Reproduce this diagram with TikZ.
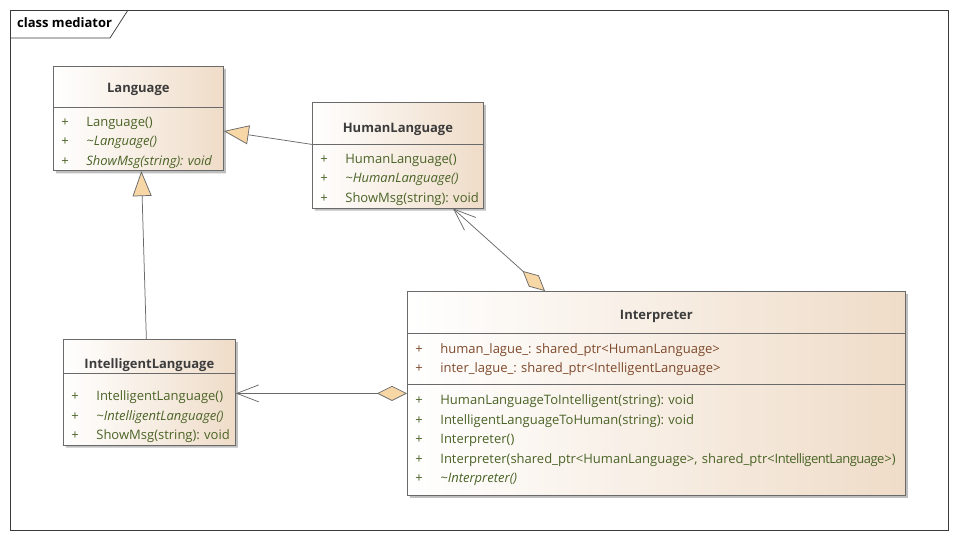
\documentclass[tikz,border=0pt]{standalone}
\usepackage{fontspec}
\setmainfont{Open Sans}
\usepackage{tikz}
\usetikzlibrary{shapes.multipart,shadows,arrows.meta}
\definecolor{namegray}{HTML}{3C3C3C}
\definecolor{opgreen}{HTML}{4A6326}
\definecolor{attrbrown}{HTML}{7E4A2C}
\definecolor{boxtan}{HTML}{EFDCC8}
\definecolor{tipfill}{HTML}{F8D7A7}
\definecolor{linegray}{HTML}{6A6A6A}
\definecolor{framegray}{HTML}{3A3A3A}
\newcommand{\classname}[3]{\makebox[\linewidth]{\bfseries\color{namegray}\rule[-#2]{0pt}{\dimexpr#1+#2\relax}#3}}
\newcommand{\members}[1]{\begin{tabular}{@{}l@{}}#1\end{tabular}}
\newcommand{\op}[1]{\color{opgreen}\makebox[25pt][l]{+}#1\rule[-3pt]{0pt}{19.5pt}\\}
\newcommand{\abstractop}[1]{\op{\itshape #1}}
\newcommand{\attr}[1]{\color{attrbrown}\makebox[25pt][l]{+}#1\rule[-3pt]{0pt}{19.5pt}\\}

\begin{document}
\begin{tikzpicture}[x=1pt,y=-1pt,
		umlclass/.style={rectangle split, rectangle split parts=2, draw=linegray, line width=.75pt,
			left color=white, right color=boxtan,
			drop shadow={shadow xshift=2.5pt, shadow yshift=-2.5pt, fill=black, opacity=.25},
			inner xsep=8pt, inner ysep=2pt, anchor=north west, font=\fontsize{13}{10}\selectfont\frenchspacing},
		umlline/.style={draw=linegray, line width=.75pt},
		inherits/.style={-{Triangle[length=25pt,width=19pt,fill=tipfill]}},
		aggregates/.style={{Diamond[length=30pt,width=15pt,fill=tipfill]}-{Straight Barb[length=22pt,width=17pt]}}]
	\useasboundingbox (0,0) rectangle (957,539);
	\draw[framegray, line width=.75pt] (10,10) rectangle (948,530);
	\node[anchor=west, inner sep=0pt, font=\fontsize{13}{13}\selectfont\bfseries] (frametab) at (17,23) {class mediator};
	\draw[framegray, line width=.75pt] (10,38) -- (110,38) -- (128,10);

	\node[umlclass, text width=154pt] (lang) at (53,66)
		{\classname{24pt}{12pt}{Language}
		\nodepart{two}\members{\op{Language()}\abstractop{\textasciitilde Language()}\abstractop{ShowMsg(string): void}}};
	\node[umlclass, text width=155pt] (human) at (312,102)
		{\classname{27.3pt}{10pt}{HumanLanguage}
		\nodepart{two}\members{\op{HumanLanguage()}\abstractop{\textasciitilde HumanLanguage()}\op{ShowMsg(string): void}}};
	\node[umlclass, text width=156pt] (intel) at (63,339)
		{\classname{26.3pt}{2.5pt}{IntelligentLanguage}
		\nodepart{two}\members{\noalign{\vskip8pt}\op{IntelligentLanguage()}\abstractop{\textasciitilde IntelligentLanguage()}\op{ShowMsg(string): void}}};
	\node[umlclass, rectangle split parts=3, text width=482pt] (interp) at (407,291)
		{\classname{26pt}{11pt}{Interpreter}
		\nodepart{two}\members{\noalign{\vskip1pt}\attr{human\_lague\_: shared\_ptr<HumanLanguage>}\attr{inter\_lague\_: shared\_ptr<IntelligentLanguage>}\noalign{\vskip6.4pt}}
		\nodepart{three}\members{\noalign{\vskip1pt}\op{HumanLanguageToIntelligent(string): void}\op{IntelligentLanguageToHuman(string): void}\op{Interpreter()}\op{Interpreter(shared\_ptr<HumanLanguage>, shared\_ptr<{\addfontfeature{LetterSpace=-4}IntelligentLanguage}>)}\abstractop{\textasciitilde Interpreter()}\noalign{\vskip7pt}}};

	\path[umlline]
		(human.text split west) edge[inherits] ([yshift=-12.5pt]lang.east)
		([xshift=-3pt]intel.north) edge[inherits] ([xshift=3pt]lang.south)
		([xshift=138pt]interp.north west) edge[aggregates] ([xshift=141pt]human.south west)
		(interp.west) edge[aggregates] (interp.west -| intel.east);
\end{tikzpicture}
\end{document}
